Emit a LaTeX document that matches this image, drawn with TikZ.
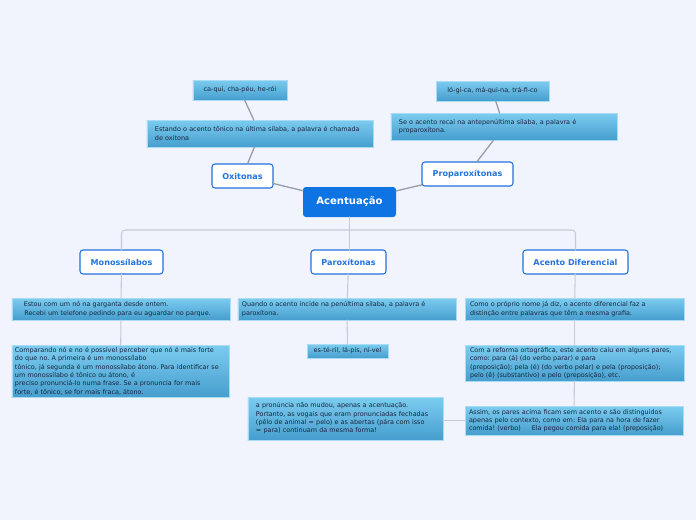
\documentclass[tikz,border=0pt]{standalone}
\usepackage{fontspec}
\setmainfont{DejaVu Sans}
\usetikzlibrary{calc}
\frenchspacing
\definecolor{MindPaper}{RGB}{241,244,253}
\definecolor{MindRoot}{RGB}{14,116,228}
\definecolor{MindTopicInk}{RGB}{34,114,222}
\definecolor{MindNoteTop}{RGB}{124,204,240}
\definecolor{MindNoteLow}{RGB}{70,158,206}
\definecolor{MindNoteRim}{RGB}{168,220,244}
\definecolor{MindNoteInk}{RGB}{24,38,60}
\definecolor{MindLink}{RGB}{150,156,168}
\definecolor{MindBranch}{RGB}{198,202,214}
\tikzset{
    mind/diagram/.style={
        line cap=round,
        line join=round,
        every node/.style={inner sep=0pt, outer sep=0pt}
    },
    mind/root/.style={
        fill=MindRoot, rounded corners=2.5pt, text=white,
        font=\fontsize{8.6}{10}\selectfont\bfseries,
        minimum width=2.79cm, minimum height=0.9cm
    },
    mind/topic/.style={
        fill=white, draw=MindTopicInk, line width=0.9pt,
        rounded corners=2.5pt, text=MindTopicInk,
        font=\fontsize{6.9}{8}\selectfont\bfseries,
        minimum height=0.72cm
    },
    mind/note/.style={
        top color=MindNoteTop, bottom color=MindNoteLow,
        draw=MindNoteRim, line width=0.4pt, text=MindNoteInk,
        font=\fontsize{5.5}{7.1}\selectfont, align=left
    },
    mind/word/.style={mind/note, align=center, minimum height=0.6cm},
    mind/link/.style={draw=MindLink, line width=1.1pt},
    mind/branch/.style={draw=MindBranch, line width=0.9pt, rounded corners=3pt}
}

\begin{document}
\begin{tikzpicture}[mind/diagram, x=0.03cm, y=-0.03cm]
    \fill[MindPaper] (0,0) rectangle (696,520);
    \useasboundingbox (0,0) rectangle (696,520);
    % centre and first level
    \node[mind/root] (acent) at (349.5,202) {Acentuação};
    \node[mind/topic, minimum width=1.83cm] (oxit) at (242.5,176) {Oxitonas};
    \node[mind/topic, minimum width=2.73cm] (propar) at (467.5,174) {Proparoxítonas};
    \node[mind/topic, minimum width=2.49cm] (mono) at (121.5,262) {Monossílabos};
    \node[mind/topic, minimum width=2.25cm] (parox) at (348.5,262) {Paroxítonas};
    \node[mind/topic, minimum width=3.15cm] (acdif) at (575.5,262) {Acento Diferencial};
    % oxitonas and proparoxitonas
    \node[mind/note, text width=6.3cm, inner xsep=0.24cm, minimum height=0.81cm]
        (oxitdef) at (260,133.5)
        {Estando o acento tônico na última sílaba, a palavra é chamada\\de oxitona};
    \node[mind/word, minimum width=2.82cm] (oxitex) at (240,90) {ca-quí, cha-péu, he-rói};
    \node[mind/note, text width=6.3cm, inner xsep=0.24cm, minimum height=0.81cm]
        (propardef) at (504,126.5)
        {Se o acento recai na antepenúltima sílaba, a palavra é\\proparoxítona.};
    \node[mind/word, minimum width=3.39cm] (proparex) at (492.5,91) {ló-gi-ca, má-qui-na, trá-fi-co};
    % monossilabos
    \node[mind/note, text width=5.94cm, inner xsep=0.3cm, minimum height=0.66cm]
        (monoex) at (121,309)
        {\hspace{1.5pt}Estou com um nó na garganta desde ontem.\\
         \hspace{2pt}Recebi um telefone pedindo para eu aguardar no parque.};
    \node[mind/note, text width=6.33cm, inner xsep=0.09cm, minimum height=1.56cm]
        (monodef) at (120.5,371)
        {Comparando nó e no é possível perceber que nó é mais forte\\
         do que no. A primeira é um monossílabo\\
         tônico, já segunda é um monossílabo átono. Para identificar se\\
         um monossílabo é tônico ou átono, é\\
         preciso pronunciá-lo numa frase. Se a pronuncia for mais\\
         forte, é tônico, se for mais fraca, átono.};
    % paroxitonas
    \node[mind/note, text width=6.3cm, inner xsep=0.12cm, minimum height=0.66cm]
        (paroxdef) at (347,309)
        {Quando o acento incide na penúltima sílaba, a palavra é\\paroxítona.};
    \node[mind/word, minimum width=2.43cm, minimum height=0.42cm] (paroxex) at (347.5,351)
        {es-té-ril, lá-pis, ní-vel};
    % acento diferencial
    \node[mind/note, text width=6.27cm, inner xsep=0.15cm, minimum height=0.66cm]
        (acdifdef) at (574.5,309)
        {Como o próprio nome já diz, o acento diferencial faz a\\
         distinção entre palavras que têm a mesma grafia.};
    \node[mind/note, text width=6.27cm, inner xsep=0.15cm, minimum height=1.08cm]
        (reforma) at (574.5,363)
        {Com a reforma ortográfica, este acento caiu em alguns pares,\\
         como: para (á) (do verbo parar) e para\\
         (preposição); pela (é) (do verbo pelar) e pela (proposição);\\
         pelo (ê) (substantivo) e pelo (preposição), etc.};
    \node[mind/note, text width=6.3cm, inner xsep=0.12cm, minimum height=0.87cm]
        (contexto) at (574,420.5)
        {Assim, os pares acima ficam sem acento e são distinguidos\\
         apenas pelo contexto, como em: Ela para na hora de fazer\\
         comida! (verbo)\hspace{1.7em}Ela pegou comida para ela! (preposição)};
    \node[mind/note, text width=5.37cm, inner xsep=0.24cm, minimum height=1.29cm]
        (pronuncia) at (345.5,418.5)
        {a pronúncia não mudou, apenas a acentuação.\\
         Portanto, as vogais que eram pronunciadas fechadas\\
         (pêlo de animal = pelo) e as abertas (pára com isso\\
         = para) continuam da mesma forma!};
    % connectors
    \draw[mind/link] (acent) -- (oxit);
    \draw[mind/link] (acent) -- (propar);
    \draw[mind/link] (oxit) -- (oxitdef);
    \draw[mind/link] (oxitdef) -- (oxitex);
    \draw[mind/link] (propar) -- (propardef);
    \draw[mind/link] (propardef) -- (proparex);
    \draw[mind/branch] (mono.north) -- ++(0,-20) -| (acdif.north);
    \draw[mind/branch] (acent.south) -- (acent.south |- parox.north);
    \draw[mind/branch] (mono) -- (monoex);
    \draw[mind/branch] (monoex) -- (monodef);
    \draw[mind/branch] (parox) -- (paroxdef);
    \draw[mind/branch] (paroxdef) -- (paroxex);
    \draw[mind/branch] (acdif) -- (acdifdef);
    \draw[mind/branch] (acdifdef) -- (reforma);
    \draw[mind/branch] (reforma) -- (contexto);
    \draw[mind/branch] (contexto.west) -- (contexto.west -| pronuncia.east);
\end{tikzpicture}
\end{document}
